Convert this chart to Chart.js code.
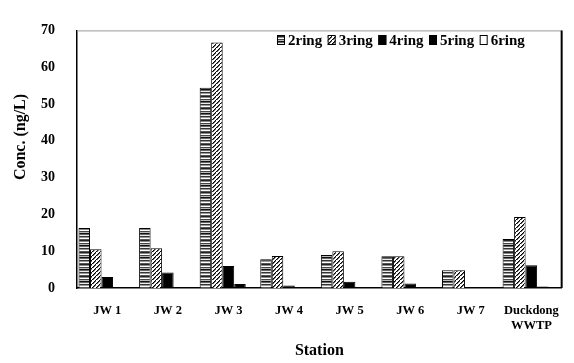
<!DOCTYPE html>
<html>
<head>
<meta charset="utf-8">
<script src="https://cdn.jsdelivr.net/npm/chart.js@4.4.1/dist/chart.umd.min.js"></script>
<style>
  html, body { margin: 0; padding: 0; background: #fff; }
  #wrap { width: 574px; height: 363px; position: relative; }
</style>
</head>
<body>
<div id="wrap"><canvas id="c" width="574" height="363"></canvas></div>
<script>
// Stations and ring-number PAH concentrations (ng/L)
const stations = ['JW 1', 'JW 2', 'JW 3', 'JW 4', 'JW 5', 'JW 6', 'JW 7', ['Duckdong', 'WWTP']];
const ring2 = [16.3, 16.3, 54.4, 7.8, 9.0, 8.6, 4.8, 13.3];
const ring3 = [10.5, 10.8, 66.7, 8.7, 10.0, 8.6, 4.8, 19.3];
const ring4 = [3.0, 4.2, 6.0, 0.7, 1.7, 1.2, 0.2, 6.2];
const ring5 = [0.3, 0.2, 1.1, 0.1, 0.2, 0.2, 0.2, 0.4];
const ring6 = [0, 0, 0, 0, 0, 0, 0, 0];
const seriesNames = ['2ring', '3ring', '4ring', '5ring', '6ring'];
const yTicks = [0, 10, 20, 30, 40, 50, 60, 70];
const yTitle = 'Conc. (ng/L)';

const SERIF = '"Liberation Serif", "Times New Roman", serif';

// Fill patterns: horizontal stripes and diagonal hatching
function stripePattern(ctx) {
  const p = document.createElement('canvas');
  p.width = 12; p.height = 12;
  const g = p.getContext('2d');
  const rows = ['#222', '#888', '#fff', '#444', '#bbb', '#111', '#666', '#eee', '#333', '#999', '#fff', '#555'];
  rows.forEach((c, i) => { g.fillStyle = c; g.fillRect(0, i, 12, 1); });
  return ctx.createPattern(p, 'repeat');
}
function hatchPattern(ctx) {
  const p = document.createElement('canvas');
  p.width = 4; p.height = 4;
  const g = p.getContext('2d');
  g.fillStyle = '#fff'; g.fillRect(0, 0, 4, 4);
  g.fillStyle = '#000';
  for (let i = 0; i < 4; i++) g.fillRect(3 - i, i, 1.6, 1);
  return ctx.createPattern(p, 'repeat');
}

const ctx = document.getElementById('c').getContext('2d');
const fills = [stripePattern(ctx), hatchPattern(ctx), '#000', '#000', '#fff'];
const values = [ring2, ring3, ring4, ring5, ring6];

const datasets = seriesNames.map((name, i) => ({
  label: name,
  data: values[i],
  backgroundColor: fills[i],
  borderColor: '#000',
  borderWidth: 1,
  barPercentage: 1.0,
  categoryPercentage: 0.95
}));

// Plot frame, in-plot legend and rotated value-axis title
const framePlugin = {
  id: 'frame',
  afterDraw(chart) {
    const { ctx, chartArea: a } = chart;
    ctx.save();
    ctx.lineWidth = 1;
    ctx.strokeStyle = '#999';
    ctx.beginPath(); ctx.moveTo(a.left, a.top + 0.5); ctx.lineTo(a.right, a.top + 0.5); ctx.stroke();
    ctx.strokeStyle = '#000';
    ctx.lineWidth = 2;
    ctx.beginPath(); ctx.moveTo(a.right, a.top); ctx.lineTo(a.right, a.bottom); ctx.stroke();

    // legend
    ctx.font = 'bold 15px ' + SERIF;
    ctx.textBaseline = 'middle';
    let x = 277;
    const y = 40;
    chart.data.datasets.forEach(ds => {
      ctx.fillStyle = ds.backgroundColor;
      ctx.fillRect(x, y - 5, 8, 10);
      ctx.strokeStyle = '#000';
      ctx.lineWidth = 1;
      ctx.strokeRect(x + 0.5, y - 4.5, 7, 9);
      ctx.fillStyle = '#000';
      ctx.fillText(ds.label, x + 11, y + 1);
      x += 11 + ctx.measureText(ds.label).width + 5.5;
    });

    // y title
    ctx.font = 'bold 16px ' + SERIF;
    ctx.textAlign = 'center';
    ctx.textBaseline = 'middle';
    ctx.translate(21, 137);
    ctx.rotate(-Math.PI / 2);
    ctx.fillText(yTitle, 0, 0);
    ctx.restore();
  }
};

new Chart(ctx, {
  type: 'bar',
  data: { labels: stations, datasets },
  plugins: [framePlugin],
  options: {
    responsive: false,
    animation: false,
    devicePixelRatio: 1,
    layout: { padding: { top: 14, right: 3, left: 0, bottom: 0 } },
    plugins: { legend: { display: false }, tooltip: { enabled: false } },
    scales: {
      x: {
        grid: { display: false, drawTicks: false },
        border: { display: true, color: '#000', width: 1.5 },
        ticks: {
          color: '#000',
          font: { family: SERIF, size: 12.5, weight: 'bold' },
          padding: 15,
          maxRotation: 0,
          autoSkip: false
        },
        title: {
          display: true,
          text: 'Station',
          color: '#000',
          font: { family: SERIF, size: 16, weight: 'bold' },
          padding: { top: 0, bottom: 3 }
        },
        afterFit(scale) { scale.height = 75; }
      },
      y: {
        min: 0,
        max: 70,
        afterBuildTicks(scale) { scale.ticks = yTicks.map(v => ({ value: v })); },
        grid: { display: false, drawTicks: false },
        border: { display: true, color: '#000', width: 1.5 },
        ticks: {
          color: '#000',
          font: { family: SERIF, size: 14, weight: 'bold' },
          padding: 22
        },
        afterFit(scale) { scale.width = 77; }
      }
    }
  }
});
</script>
</body>
</html>
